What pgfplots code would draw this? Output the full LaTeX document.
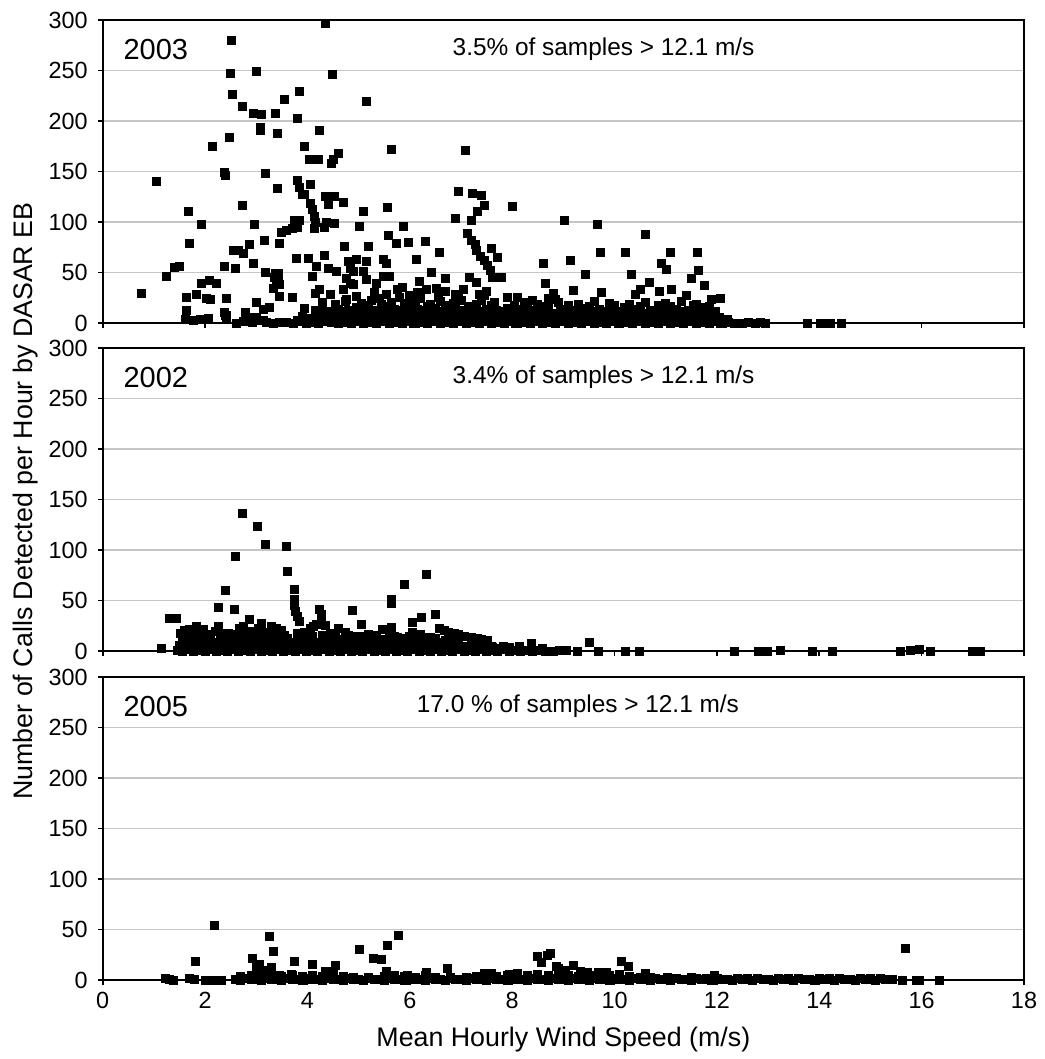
\documentclass[border=0pt]{standalone}
\usepackage{fontspec}
\setmainfont{Liberation Sans}
\usepackage{pgfplots}
\pgfplotsset{compat=1.18}
\usepackage{pgfplotstable}

% 2003
\pgfplotstableread{
x y
0.75 29
1.04 140
1.25 46
1.41 55
1.49 56
1.68 110
1.70 79
1.92 98
1.84 28
2.03 24
2.10 23
1.93 39
2.09 42
2.22 39
2.15 175
2.37 56
2.59 54
2.37 149
2.39 146
2.47 184
2.50 247
2.52 280
2.54 226
2.56 72
2.65 72
2.74 69
2.73 116
2.73 214
2.86 78
2.94 59
2.97 98
2.95 208
3.10 207
3.00 249
3.08 194
3.09 191
3.17 148
3.16 82
3.17 50
3.37 49
3.40 43
3.43 44
3.35 45
3.39 40
3.44 49
3.46 38
3.37 208
3.33 34
3.41 188
3.41 133
3.45 79
3.49 90
3.58 92
3.70 94
3.80 95
3.85 102
3.75 102
3.46 26
3.70 25
3.55 221
3.79 64
3.80 203
3.80 141
3.85 134
3.90 127
3.95 127
3.85 229
3.94 175
4.02 64
4.05 137
4.03 162
4.05 118
4.10 112
4.13 106
4.15 100
4.14 94
4.10 46
4.17 56
4.23 33
4.21 162
4.23 191
4.40 54
4.34 67
4.34 95
4.38 100
4.36 125
4.41 117
4.52 125
4.52 99
4.36 297
4.47 158
4.50 162
4.60 168
4.48 246
4.57 51
4.70 119
4.73 76
4.80 61
4.83 54
4.89 51
4.96 63
5.15 61
5.09 51
5.15 43
4.76 44
4.70 33
4.83 39
4.89 38
4.96 26
4.76 23
5.02 96
5.10 110
5.16 219
5.20 76
5.35 39
5.48 46
5.61 46
5.48 63
5.54 59
5.58 87
5.57 114
5.64 172
5.74 79
5.87 96
5.97 80
6.13 63
6.31 81
6.43 50
6.57 70
6.70 44
6.19 41
6.32 33
6.51 34
6.70 31
6.89 104
6.95 130
7.08 171
7.13 89
7.20 82
7.28 78
7.31 72
7.38 66
7.45 62
7.52 57
7.57 52
7.62 45
7.22 128
7.40 126
7.33 110
7.46 116
7.20 102
7.60 74
7.72 65
7.79 45
7.17 45
7.30 40
7.35 28
7.50 31
8.00 115
8.61 59
8.64 39
8.71 24.5
8.84 23.5
9.02 102
9.13 62
9.43 48
9.19 32
9.67 98
9.72 70
9.74 30
10.22 70
10.33 48
10.60 88
10.51 33
10.68 40
10.88 31
10.91 59
11.02 53
11.12 33
11.09 70
11.62 70
11.64 52
11.51 44
11.75 37
11.90 23
12.07 24.5
7.90 25
8.10 25
8.24 20
8.40 22
1.63 25
1.63 12.5
1.61 4
1.77 3
1.90 3.6
2.06 4.6
2.42 24
2.37 10
2.42 7.6
2.39 8
2.42 4.6
2.62 0
2.78 10
2.88 6
3.00 20
3.00 6
3.13 13
3.26 15
3.13 3
2.75 2
2.92 1
3.05 3
3.20 1
3.33 0
3.46 1
3.59 1
3.72 0
3.85 2
3.98 0
4.10 1
4.22 0
4.35 2
4.47 1
4.60 0
4.72 1
4.85 0
4.97 2
5.10 0
5.22 1
5.35 0
5.47 2
5.60 0
5.72 1
5.85 0
5.97 2
6.10 0
6.22 1
6.35 0
6.47 2
6.60 0
6.72 1
6.85 0
6.97 2
7.10 0
7.22 1
7.35 0
7.47 2
7.60 0
7.72 1
7.85 0
7.97 2
8.10 0
8.22 1
8.35 0
8.47 2
8.60 0
8.72 1
8.85 0
8.97 2
9.10 0
9.22 1
9.35 0
9.47 2
9.60 0
9.72 1
9.85 0
9.97 2
10.10 0
10.22 1
10.35 0
10.47 2
10.60 0
10.72 1
10.85 0
10.97 2
11.10 0
11.22 1
11.35 0
11.47 2
11.60 0
11.72 1
11.85 0
11.97 2
12.10 0
12.22 1
12.35 0
12.50 0
12.62 1
12.75 0
12.85 1
12.95 0
13.76 0
14.02 0
14.12 0
14.22 0
14.44 0
3.90 7
4.05 5
4.20 8
4.40 6
4.55 7
4.70 5
4.85 8
5.00 6
5.15 7
5.30 5
5.45 8
5.60 6
5.75 7
5.90 5
6.05 8
6.20 6
6.35 7
6.50 5
6.65 8
6.80 6
6.95 7
7.10 5
7.25 8
7.40 6
7.55 7
7.70 5
7.85 8
8.00 6
8.15 7
8.30 5
8.45 8
8.60 6
8.75 7
8.90 5
9.05 8
9.20 6
9.35 7
9.50 5
9.65 8
9.80 6
9.95 7
10.10 5
10.25 8
10.40 6
10.55 7
10.70 5
10.85 8
11.00 6
11.15 7
11.30 5
11.45 8
11.60 6
11.75 7
11.90 5
12.05 6
12.20 4
3.95 14
4.15 12
4.30 15
4.60 13
4.80 12
4.95 15
5.20 13
5.35 12
5.50 15
5.70 13
5.85 12
6.00 15
6.15 13
6.30 12
6.50 14
6.75 13
6.90 15
7.05 12
7.25 14
7.50 13
7.70 12
7.90 14
8.20 13
8.45 12
8.70 15
8.95 13
9.20 12
9.45 14
9.70 13
9.95 12
10.20 15
10.45 13
10.70 12
10.95 14
11.20 13
11.45 12
11.70 15
11.95 11
4.30 20
4.55 18
4.75 21
5.05 19
5.25 22
5.45 18
5.65 20
5.90 19
6.10 22
6.40 18
6.60 21
6.85 19
7.00 22
7.30 18
7.65 20
8.30 19
8.50 18
8.90 20
9.30 18
9.60 21
9.90 19
10.30 18
10.60 20
11.00 19
11.30 21
11.60 18
5.30 30
5.55 28
5.75 33
6.00 27
6.15 30
6.90 28
7.05 33
7.45 27
8.80 29
10.40 28
11.40 27
4.45 28
4.15 29
5.85 35
3.80 3
3.92 4
4.04 3
4.16 4
4.28 3
4.40 4
4.52 3
4.64 4
4.76 3
4.88 4
5.00 3
5.12 4
5.24 3
5.36 4
5.48 3
5.60 4
5.72 3
5.84 4
5.96 3
6.08 4
6.20 3
6.32 4
6.44 3
6.56 4
6.68 3
6.80 4
6.92 3
7.04 4
7.16 3
7.28 4
7.40 3
7.52 4
7.64 3
7.76 4
7.88 3
8.00 4
8.12 3
8.24 4
8.36 3
8.48 4
8.60 3
8.72 4
8.84 3
8.96 4
9.08 3
9.20 4
9.32 3
9.44 4
9.56 3
9.68 4
9.80 3
9.92 4
10.04 3
10.16 4
10.28 3
10.40 4
10.52 3
10.64 4
10.76 3
10.88 4
11.00 3
11.12 4
11.24 3
11.36 4
11.48 3
11.60 4
11.72 3
11.84 4
11.96 3
12.08 4
4.32 9
4.47 11
4.62 9
4.77 11
4.92 9
5.07 11
5.22 9
5.37 11
5.52 9
5.67 11
5.82 9
5.97 11
6.12 9
6.27 11
6.42 9
6.57 11
6.72 9
6.87 11
7.02 9
7.17 11
7.32 9
7.47 11
7.62 9
7.77 11
7.92 9
8.07 11
8.22 9
8.37 11
8.52 9
8.67 11
8.82 9
8.97 11
9.12 9
9.27 11
9.42 9
9.57 11
9.72 9
9.87 11
10.02 9
10.17 11
10.32 9
10.47 11
10.62 9
10.77 11
10.92 9
11.07 11
11.22 9
11.37 11
11.52 9
11.67 11
11.82 9
11.97 11
5.20 17
5.40 24
5.60 16
5.80 25
6.00 18
6.20 24
6.35 16
6.55 25
6.70 17
6.95 24
7.15 16
7.40 22
7.60 17
8.05 17
8.60 16
9.10 17
9.50 16
10.00 17
10.50 16
10.85 17
11.10 16
11.55 17
11.85 16
}\dataA

% 2002
\pgfplotstableread{
x y
1.14 3
1.30 32
1.44 32
2.26 43
2.40 60
2.58 41
2.60 94
2.73 136
3.02 123
3.17 106
2.87 31
3.58 104
3.61 79
3.75 61
3.75 51
3.75 45
3.76 39
3.80 34
3.85 29
4.24 41
4.27 36
4.27 29
4.88 40
5.05 26
5.64 51
5.64 47
5.64 23.5
5.46 21.5
5.89 66
6.06 28
6.06 18
6.22 33
6.32 76
6.50 36
1.83 24
1.96 21
1.70 21
1.51 17.5
2.02 16
1.60 20
2.26 24
2.68 22
2.75 24
3.10 27.5
3.04 22.5
3.30 24
3.40 22
3.46 19
4.05 22
4.12 24
4.18 26
4.35 25
4.60 22
6.68 20
6.87 17
7.07 14
7.33 12
7.52 10
7.82 5
8.14 5
6.58 22
6.75 18
6.95 16
7.20 13
7.40 11
1.45 1
1.56 0
1.67 2
1.78 0
1.89 1
2.00 0
2.11 2
2.22 0
2.33 1
2.44 0
2.55 2
2.66 0
2.77 1
2.88 0
2.99 2
3.10 0
3.21 1
3.32 0
3.43 2
3.54 0
3.65 1
3.76 0
3.87 2
3.98 0
4.09 1
4.20 0
4.31 2
4.42 0
4.53 1
4.64 0
4.75 2
4.86 0
4.97 1
5.08 0
5.19 2
5.30 0
5.41 1
5.52 0
5.63 2
5.74 0
5.85 1
5.96 0
6.07 2
6.18 0
6.29 1
6.40 0
6.51 2
6.62 0
6.73 1
6.84 0
6.95 2
7.06 0
7.17 1
7.28 0
7.39 2
7.50 0
7.61 1
7.72 0
7.83 2
7.94 0
8.05 1
8.16 0
8.27 1
8.40 0
8.52 1
8.65 0
8.80 0
8.92 1
1.50 6
1.65 8
1.80 5
1.95 7
2.10 6
2.25 8
2.40 5
2.55 7
2.70 6
2.85 8
3.00 5
3.15 7
3.30 6
3.45 8
3.60 5
3.75 7
3.90 6
4.05 8
4.20 5
4.35 7
4.50 6
4.65 8
4.80 5
4.95 7
5.10 6
5.25 8
5.40 5
5.55 7
5.70 6
5.85 8
6.00 5
6.15 7
6.30 6
6.45 8
6.60 5
6.75 7
6.90 6
7.05 5
7.20 6
7.40 4
7.60 5
7.95 4
8.37 8
1.55 13
1.75 11
1.90 14
2.10 12
2.30 15
2.50 11
2.65 14
2.85 12
3.05 15
3.25 11
3.40 14
3.60 12
3.80 15
3.95 11
4.10 14
4.30 12
4.50 13
4.70 11
4.90 14
5.10 12
5.30 13
5.50 11
5.70 14
5.90 12
6.10 11
6.30 13
6.50 12
6.70 10
6.90 11
1.65 18
1.85 20
2.20 19
2.45 17
2.90 19
3.20 18
3.50 20
3.95 18
4.45 17
4.75 18
5.20 16
5.60 17
6.20 16
8.60 3
9.05 0.5
9.50 9
9.28 0
9.68 0
10.22 0
10.49 0
12.34 0
12.81 0
12.98 0
13.25 1
13.86 0
14.25 0
15.58 0
15.78 1
15.95 1.5
16.18 0
17.00 0
17.15 0
1.50 3
1.62 4
1.74 3
1.86 4
1.98 3
2.10 4
2.22 3
2.34 4
2.46 3
2.58 4
2.70 3
2.82 4
2.94 3
3.06 4
3.18 3
3.30 4
3.42 3
3.54 4
3.66 3
3.78 4
3.90 3
4.02 4
4.14 3
4.26 4
4.38 3
4.50 4
4.62 3
4.74 4
4.86 3
4.98 4
5.10 3
5.22 4
5.34 3
5.46 4
5.58 3
5.70 4
5.82 3
5.94 4
6.06 3
6.18 4
6.30 3
6.42 4
6.54 3
6.66 4
6.78 3
6.90 4
7.02 3
7.14 4
7.26 3
7.38 4
7.50 3
7.62 4
7.74 3
1.55 9
1.70 10
1.85 9
2.00 10
2.15 9
2.30 10
2.45 9
2.60 10
2.75 9
2.90 10
3.05 9
3.20 10
3.35 9
3.50 10
3.65 9
3.80 10
3.95 9
4.10 10
4.25 9
4.40 10
4.55 9
4.70 10
4.85 9
5.00 10
5.15 9
5.30 10
5.45 9
5.60 10
5.75 9
5.90 10
6.05 9
6.20 10
6.35 9
6.50 10
6.65 9
6.80 10
6.95 9
1.55 16
1.80 17
2.05 15
2.30 17
2.55 16
2.80 15
3.05 17
3.30 16
3.55 15
3.80 17
4.05 16
4.30 15
4.55 14
4.80 15
5.05 14
5.35 15
5.75 13
6.00 14
6.40 13
}\dataB

% 2005
\pgfplotstableread{
x y
1.22 2
1.31 1
1.38 0
1.70 2
1.80 1
1.82 18.5
2.00 0
2.16 0
2.32 0
2.18 54
2.93 21
3.07 15
3.04 8.6
3.25 43
3.33 28.5
3.75 18.5
4.09 15
4.55 14.5
5.02 30
5.28 21
5.44 20
5.57 34
5.78 44
6.73 11
8.50 23.5
8.57 17
8.74 26
8.86 13.5
8.68 24.6
8.90 11
9.04 9.5
9.20 14.5
9.33 9
9.46 7.8
9.69 7.8
9.85 7.8
10.13 18.6
10.28 13.5
10.61 6.8
11.04 3
11.50 3
11.95 4.4
15.43 1
15.63 0
15.69 31
15.89 0
15.95 0
16.35 0
3.00 12
3.15 10
3.30 12
4.35 9
4.50 9
3.46 5
3.69 6
5.54 8.6
5.96 5
6.32 7.6
7.45 7
7.60 7
7.95 6
8.10 7
2.6 1
2.7 0
2.8 1.5
2.9 0.5
3.0 1
3.1 0
3.2 1.5
3.3 0.5
3.4 1
3.5 0
3.6 1.5
3.7 0.5
3.8 1
3.9 0
4.0 1.5
4.1 0.5
4.2 1
4.3 0
4.4 1.5
4.5 0.5
4.6 1
4.7 0
4.8 1.5
4.9 0.5
5.0 1
5.1 0
5.2 1.5
5.3 0.5
5.4 1
5.5 0
5.6 1.5
5.7 0.5
5.8 1
5.9 0
6.0 1.5
6.1 0.5
6.2 1
6.3 0
6.4 1.5
6.5 0.5
6.6 1
6.7 0
6.8 1.5
6.9 0.5
7.0 1
7.1 0
7.2 1.5
7.3 0.5
7.4 1
7.5 0
7.6 1.5
7.7 0.5
7.8 1
7.9 0
8.0 1.5
8.1 0.5
8.2 1
8.3 0
8.4 1.5
8.5 0.5
8.6 1
8.7 0
8.8 1.5
8.9 0.5
9.0 1
9.1 0
9.2 1.5
9.3 0.5
9.4 1
9.5 0
9.6 1.5
9.7 0.5
9.8 1
9.9 0
10.0 1.5
10.1 0.5
10.2 1
10.3 0
10.4 1.5
10.5 0.5
10.6 1
10.7 0
10.8 1.5
10.9 0.5
11.0 1
11.1 0
11.2 1.5
11.3 0.5
11.4 1
11.5 0
11.6 1.5
11.7 0.5
11.8 1
11.9 0
12.0 1.5
12.1 0.5
12.2 1
12.3 0
12.4 1.5
12.5 0.5
12.6 1
12.7 0
12.8 1.5
12.9 0.5
13.0 1
13.1 0
13.2 1.5
13.3 0.5
13.4 1
13.5 0
13.6 1.5
13.7 0.5
13.8 1
13.9 0
14.0 1.5
14.1 0.5
14.2 1
14.3 0
14.4 1.5
14.5 0.5
14.6 1
14.7 0
14.8 1.5
14.9 0.5
15.0 1
15.1 0
15.2 1.5
15.3 0.5
2.7 4
2.9 5
3.1 4
3.3 6
3.5 4
3.7 5
3.9 4
4.1 5
4.3 4
4.5 6
4.7 4
4.9 3
5.2 3
5.5 4
5.7 5
5.9 4
6.1 3
6.3 5
6.5 3
6.8 3
7.1 3
7.3 4
7.5 5
7.7 4
7.9 5
8.1 4
8.3 5
8.5 6
8.7 5
8.9 4
9.1 5
9.3 4
9.5 5
9.7 4
9.9 5
10.1 6
10.3 4
10.5 3
10.7 3
11.2 2
11.8 2
12.2 1
12.6 2
13.0 1
13.4 2
13.8 1
14.2 2
14.6 1
15.0 2
}\dataC

\tikzset{
  yr/.style={anchor=west, inner sep=0pt, font=\fontsize{14.5}{17}\selectfont},
  note/.style={anchor=west, inner sep=0pt, font=\fontsize{12.2}{14}\selectfont},
}
\pgfplotsset{
  panel/.style={
    scale only axis, width=460.65pt, height=151.5pt,
    anchor=south west,
    xmin=0, xmax=18, ymin=0, ymax=300,
    xtick={0,2,...,18}, ytick={0,50,...,300},
    minor tick num=0,
    tick pos=left,
    tick align=outside, major tick length=2.5pt,
    tick style={black, line width=0.8pt},
    ymajorgrids, grid style={gray!45, line width=0.9pt},
    axis line style={line width=1pt},
    every tick label/.append style={font=\fontsize{11.7}{14}\selectfont},
    yticklabel style={xshift=-1.5pt},
    /pgf/number format/assume math mode=true,
    clip=false,
  },
  pts/.style={only marks, mark=square*, mark size=2pt, black},
}

\begin{document}
\begin{tikzpicture}
% 2003
\begin{axis}[panel, at={(0,328.5pt)}, xticklabels={}]
\addplot[pts] table {\dataA};
\node[yr] at (axis cs:0.4,271) {2003};
\node[note] at (axis cs:6.83,271) {3.5\% of samples > 12.1 m/s};
\end{axis}
% 2002
\begin{axis}[panel, at={(0,164.5pt)}, xticklabels={}]
\addplot[pts] table {\dataB};
\node[yr] at (axis cs:0.4,271) {2002};
\node[note] at (axis cs:6.83,271) {3.4\% of samples > 12.1 m/s};
\end{axis}
% 2005
\begin{axis}[panel, at={(0,0)},
  xlabel={Mean Hourly Wind Speed (m/s)},
  xlabel style={at={(axis description cs:0.5,0)}, anchor=center, yshift=-30pt, font=\fontsize{13.4}{16}\selectfont},
]
\addplot[pts] table {\dataC};
\node[yr] at (axis cs:0.4,271) {2005};
\node[note] at (axis cs:6.13,271) {17.0 \% of samples > 12.1 m/s};
\end{axis}
\node[rotate=90, font=\fontsize{13.4}{16}\selectfont] at (-38.8pt,239.5pt) {Number of Calls Detected per Hour by DASAR EB};
\pgfresetboundingbox
\path[use as bounding box] (-51.35pt,-39.5pt) rectangle (470.65pt,490pt);
\end{tikzpicture}
\end{document}
